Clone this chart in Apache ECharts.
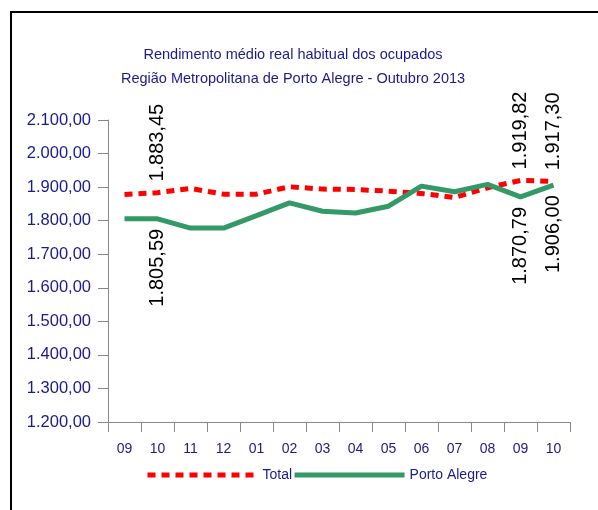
<!DOCTYPE html>
<html>
<head>
<meta charset="utf-8">
<script src="https://cdn.jsdelivr.net/npm/echarts@6/dist/echarts.min.js"></script>
<style>
  html, body { margin: 0; padding: 0; background: #fff; }
  #chart { width: 598px; height: 510px; }
</style>
</head>
<body>
<div id="chart"></div>
<script>
// Rendimento medio real - RMPA, set/2012 a out/2013

var months = ['09', '10', '11', '12', '01', '02', '03', '04', '05', '06', '07', '08', '09', '10'];
var total = [1878, 1883.45, 1896, 1879, 1879, 1901, 1894, 1893, 1888, 1881, 1869, 1898, 1919.82, 1917.30];
var portoAlegre = [1806, 1805.59, 1778, 1778, 1815, 1853, 1828, 1823, 1843, 1903, 1886, 1908, 1870.79, 1906.00];
var labelIdx = [1, 12, 13];  // points that carry a value label

var navy = '#1a1a8c';
var red = '#ff0000';
var green = '#339966';
var dash = [8, 6];

function fmtBR(v) {
  var parts = v.toFixed(2).split('.');
  var ints = parts[0].replace(/\B(?=(\d{3})+(?!\d))/g, '.');
  return ints + ',' + parts[1];
}

function buildData(values, above) {
  return values.map(function (v, i) {
    if (labelIdx.indexOf(i) < 0) return v;
    return {
      value: v,
      label: {
        show: true,
        position: above ? 'top' : 'bottom',
        rotate: 90,
        align: above ? 'left' : 'right',
        verticalAlign: 'middle',
        distance: above ? 11 : 10,
        color: '#000',
        fontFamily: 'Liberation Sans, Arial, sans-serif',
        fontSize: 20,
        formatter: function (p) { return fmtBR(p.value); }
      }
    };
  });
}

var myChart = echarts.init(document.getElementById('chart'));

var option = {
  backgroundColor: '#fff',
  animation: false,
  textStyle: { fontFamily: 'Liberation Sans, Arial, sans-serif' },
  title: {
    text: 'Rendimento médio real habitual dos ocupados\nRegião Metropolitana de Porto Alegre - Outubro 2013',
    left: 288,
    textAlign: 'center',
    top: 38,
    textStyle: { color: navy, fontSize: 14.5, fontWeight: 'normal', lineHeight: 24 }
  },
  graphic: [
    { type: 'line', shape: { x1: 10, y1: 12, x2: 598, y2: 12 }, style: { stroke: '#000', lineWidth: 2 } },
    { type: 'line', shape: { x1: 11, y1: 12, x2: 11, y2: 510 }, style: { stroke: '#000', lineWidth: 2 } }
  ],
  legend: {
    left: 145,
    top: 468,
    padding: 0,
    itemWidth: 110,
    itemHeight: 14,
    itemGap: 0,
    itemStyle: { opacity: 0 },
    textStyle: { color: navy, fontSize: 14, padding: [2, 0, 0, 0] },
    data: [
      { name: 'Total', lineStyle: { color: red, width: 5, type: dash, cap: 'butt' } },
      { name: 'Porto Alegre', lineStyle: { color: green, width: 5 } }
    ]
  },
  grid: { left: 108, right: 28, top: 120, bottom: 88 },
  xAxis: {
    type: 'category',
    data: months,
    boundaryGap: true,
    axisLine: { lineStyle: { color: '#888', width: 1 } },
    axisTick: { show: true, length: 10, alignWithLabel: false, lineStyle: { color: '#888' } },
    axisLabel: { color: navy, fontSize: 14, margin: 20, interval: 0 },
    splitLine: { show: false }
  },
  yAxis: {
    type: 'value',
    min: 1200,
    max: 2100,
    interval: 100,
    axisLine: { show: true, lineStyle: { color: '#888', width: 1 } },
    axisTick: { show: true, length: 10, lineStyle: { color: '#888' } },
    axisLabel: { color: navy, fontSize: 16.5, margin: 17, formatter: fmtBR },
    splitLine: { show: false }
  },
  series: [
    {
      name: 'Total',
      type: 'line',
      symbol: 'circle',
      symbolSize: 0.1,
      color: red,
      lineStyle: { color: red, width: 5, type: dash, cap: 'butt' },
      data: buildData(total, true)
    },
    {
      name: 'Porto Alegre',
      type: 'line',
      symbol: 'circle',
      symbolSize: 0.1,
      color: green,
      lineStyle: { color: green, width: 5 },
      data: buildData(portoAlegre, false)
    }
  ]
};

myChart.setOption(option);
</script>
</body>
</html>
